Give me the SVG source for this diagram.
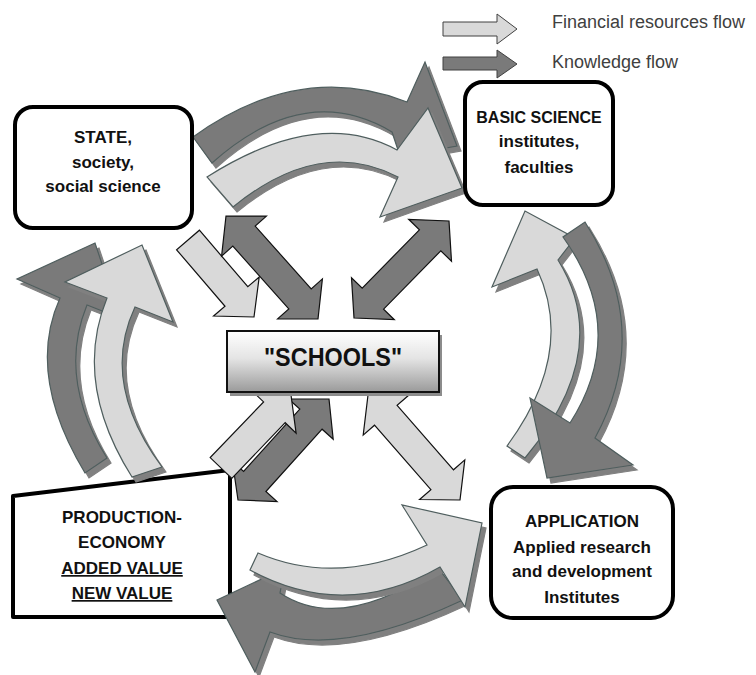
<svg xmlns="http://www.w3.org/2000/svg" width="756" height="675" viewBox="0 0 756 675">
<defs>
<style>
.box{fill:#fff;stroke:#000;stroke-width:4;stroke-linejoin:round}
.t{font-family:"Liberation Sans",Arial,sans-serif;font-weight:bold;font-size:17px;fill:#111;text-anchor:middle}
.lg{font-family:"Liberation Sans",Arial,sans-serif;font-size:18px;fill:#404040}
.cl{fill:#d9d9d9;stroke:#4f5e5e;stroke-width:1.2;stroke-linejoin:miter;filter:url(#sh)}
.cd{fill:#7a7a7a;stroke:#4f5e5e;stroke-width:1.2;stroke-linejoin:miter;filter:url(#sh)}
.sl{fill:#d9d9d9;stroke:#111;stroke-width:1.2}
.sd{fill:#7a7a7a;stroke:#111;stroke-width:1.2}
.ll{fill:#d9d9d9;stroke:#404040;stroke-width:1}
.ld{fill:#7a7a7a;stroke:#404040;stroke-width:1}
</style>
<filter id="sh" x="-20%" y="-20%" width="140%" height="140%">
<feOffset in="SourceAlpha" dx="4" dy="5" result="o"/>
<feFlood flood-color="#808080"/>
<feComposite in2="o" operator="in" result="s"/>
<feMerge><feMergeNode in="s"/><feMergeNode in="SourceGraphic"/></feMerge>
</filter>
<linearGradient id="gs" x1="0" y1="0" x2="0" y2="1">
<stop offset="0" stop-color="#ffffff"/>
<stop offset="0.45" stop-color="#e4e4e4"/>
<stop offset="1" stop-color="#9a9a9a"/>
</linearGradient>
</defs>

<rect width="756" height="675" fill="#fff"/>

<g id="legend">
<polygon class="ll" points="443,22 497,22 497,14 517,29 497,44 497,36 443,36"/>
<polygon class="ld" points="443,57 497,57 497,50 517,64 497,78 497,70 443,70"/>
<text class="lg" x="552" y="28">Financial resources flow</text>
<text class="lg" x="552" y="68">Knowledge flow</text>
</g>

<g id="production">
<polygon class="box" points="13,496 230,470 230,617 13,617"/>
<text class="t" x="122" y="523">PRODUCTION-</text>
<text class="t" x="122" y="548">ECONOMY</text>
<text class="t" x="122" y="574" text-decoration="underline">ADDED VALUE</text>
<text class="t" x="122" y="599" text-decoration="underline">NEW VALUE</text>
</g>

<g id="connectors">
<!-- top pair -->
<path class="cd" d="M193,137 Q300,60 407,102 L425,62 L457,146 L400,156 L392,132 Q305,80 212,163 Z"/>
<path class="cl" d="M207,177 Q318,106.5 397,150 L428,108 L462,188 L380,217 L398,177 Q320,136 233,207 Z"/>
<!-- left pair -->
<path class="cd" d="M85,473 Q25.5,374.5 60,298 L17,279 L95,243 L120,318 L87,305 Q57,378.5 107,458 Z"/>
<path class="cl" d="M132,477 Q72.5,382.5 107,298 L65,282 L142,245 L173,322 L135,307 Q99.5,383 162,467 Z"/>
<!-- right pair -->
<path class="cl" d="M507,446 Q576,352.5 537,269 L492,287 L525,211 L575,238 L558,260 Q614.5,351 525,458 Z"/>
<path class="cd" d="M585,222 Q654,330 595,438 L633,465 L547,478 L530,398 L570,423 Q629.5,330 563,237 Z"/>
<!-- bottom pair -->
<path class="cd" d="M438,568 Q341,633.5 280,593 L285,568 L217,600 L255,672 L270,632 Q339.5,658 463,600 Z"/>
<path class="cl" d="M258,553 Q337.5,587 427,545 L402,505 L482,523 L465,607 L440,567 Q345,621.5 250,570 Z"/>
<!-- straight arrows around SCHOOLS -->
<polygon class="sl" points="176.6,249.8 225,306.3 213.6,316 254,317 259.2,277 247.8,286.7 199.4,230.2"/>
<polygon class="sd" points="226,216 266.4,216.1 255.2,226.1 311.2,288.9 322.4,278.9 318,319 277.6,318.9 288.8,308.9 232.8,246.1 221.6,256.1"/>
<polygon class="sd" points="354,318 394.3,319.7 383.6,309.2 440.8,250.8 451.5,261.3 449,221 408.7,219.3 419.4,229.8 362.2,288.2 351.5,277.7"/>
<polygon class="sd" points="238,500 277,501.5 265.9,491.5 322.1,429.2 333.2,439.2 329,399 288.6,399 299.8,409.1 243.6,471.4 232.4,461.3"/>
<polygon class="sl" points="231.8,478.4 285.2,422.7 296.1,433.1 291,395 252.7,391.5 263.6,401.9 210.2,457.6"/>
<polygon class="sl" points="368,395 408.4,395.5 397.1,405.4 453.5,469.8 464.8,459.9 460,500 419.6,499.5 430.9,489.6 374.5,425.2 363.2,435.1"/>
</g>

<g id="state">
<rect class="box" x="15" y="107" width="177" height="121" rx="18"/>
<text class="t" x="103" y="143">STATE,</text>
<text class="t" x="103" y="168">society,</text>
<text class="t" x="103" y="192">social science</text>
</g>

<g id="basic-science">
<rect class="box" x="465" y="82" width="148" height="123" rx="18"/>
<text class="t" x="539" y="123" style="font-size:16px">BASIC SCIENCE</text>
<text class="t" x="539" y="147">institutes,</text>
<text class="t" x="539" y="173">faculties</text>
</g>

<g id="application">
<rect class="box" x="491" y="487" width="182" height="131" rx="22"/>
<text class="t" x="582" y="527">APPLICATION</text>
<text class="t" x="582" y="553">Applied research</text>
<text class="t" x="582" y="577">and development</text>
<text class="t" x="582" y="603">Institutes</text>
</g>

<g id="schools">
<rect x="230" y="335" width="212" height="61" fill="#8c8c8c"/>
<rect x="227" y="331" width="212" height="61" fill="url(#gs)" stroke="#111" stroke-width="2"/>
<text class="t" x="333" y="366" style="font-size:25px" textLength="138" lengthAdjust="spacingAndGlyphs">"SCHOOLS"</text>
</g>
</svg>
